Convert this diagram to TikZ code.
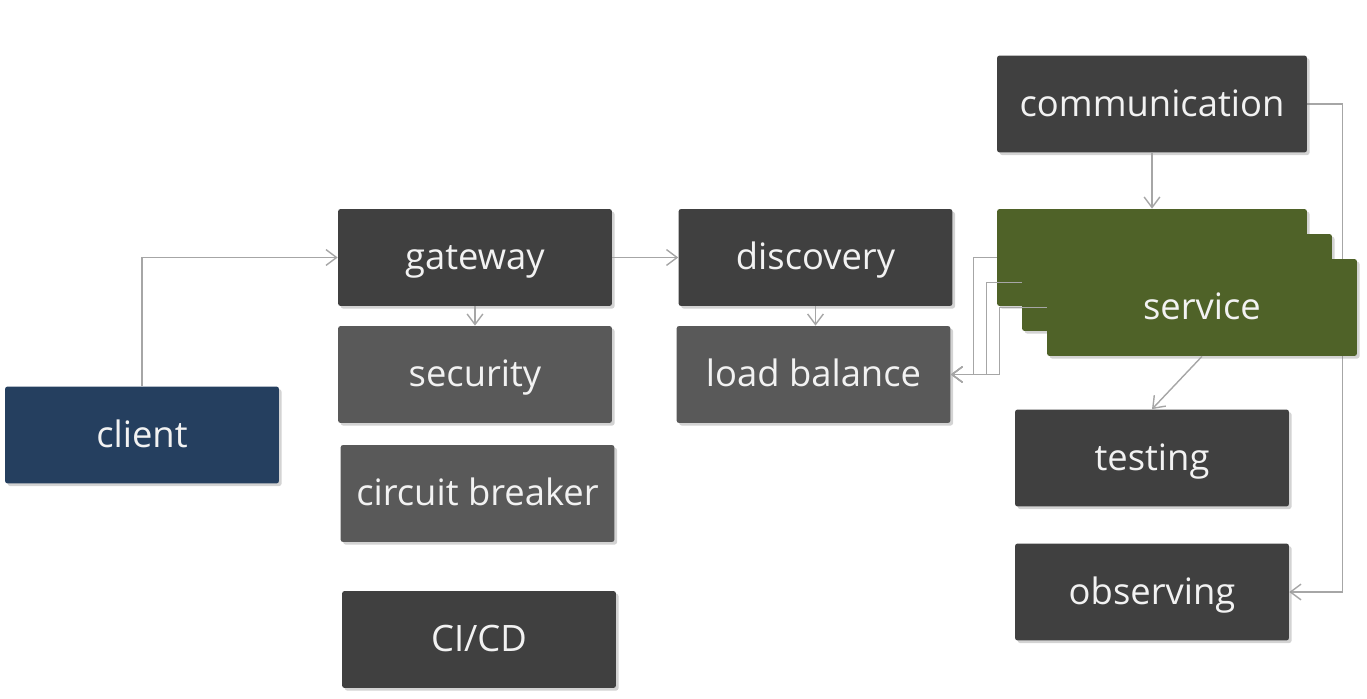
\documentclass[tikz,border=0pt]{standalone}
\usepackage{fontspec}
\setmainfont{Open Sans}
\usetikzlibrary{arrows.meta, shadows, backgrounds}

\definecolor{boxdark}{HTML}{404040}
\definecolor{boxmid}{HTML}{595959}
\definecolor{clientblue}{HTML}{253F5F}
\definecolor{svcgreen}{HTML}{4F6228}
\definecolor{linegray}{HTML}{A6A6A6}
\definecolor{boxtext}{HTML}{F2F2F2}

\begin{document}
\begin{tikzpicture}[x=0.02cm, y=-0.02cm,
    box/.style={rectangle, rounded corners=1.5pt, minimum width=5.48cm,
      minimum height=1.94cm, inner sep=0pt, text=boxtext,
      font=\fontsize{20.7}{24}\selectfont, text height=17pt, text depth=3pt,
      drop shadow={shadow xshift=1.5pt, shadow yshift=-1.5pt, opacity=0.35}},
    link/.style={draw=linegray, line width=0.8pt,
      -{Straight Barb[length=6pt,width=9pt]}}]
  \useasboundingbox (0,0) rectangle (1367,699);

  \node[box, fill=clientblue] (client) at (142,435)     {client};
  \node[box, fill=boxdark]    (gate)   at (475,257.5)   {gateway};
  \node[box, fill=boxmid]     (sec)    at (475,374.5)   {security};
  \node[box, fill=boxmid]     (cb)     at (477.5,493.5) {circuit breaker};
  \node[box, fill=boxdark]    (cicd)   at (479,639.5)   {CI/CD};
  \node[box, fill=boxdark]    (disc)   at (815.5,257.5) {discovery};
  \node[box, fill=boxmid]     (lb)     at (813.5,374.5) {load balance};
  \node[box, fill=boxdark, minimum width=6.2cm] (comm) at (1152,104) {communication};
  \foreach \i/\d/\txt in {1/0/{}, 2/25/{}, 3/50/service} {
    \node[box, fill=svcgreen, minimum width=6.2cm] (svc\i) at (1152+\d,257.5+\d) {\txt};
  }
  \node[box, fill=boxdark]    (test)   at (1152,458)    {testing};
  \node[box, fill=boxdark]    (obs)    at (1152,592)    {observing};

  \draw[link] (client.north) |- (gate.west);
  \draw[link] (gate.east) -- (disc.west);
  \draw[link] (gate.south) -- (sec.north);
  \draw[link] (disc.south) -- (disc.south |- lb.north);
  \draw[link] (comm.south) -- (svc1.north);
  \draw[link] (svc3.south) -- (test.north);
  \foreach \i/\d in {1/23, 2/35, 3/47} {
    \draw[link] (svc\i.west) -- ++(-\d,0) |- (lb.east);
  }
  % runs behind the service stack
  \begin{scope}[on background layer]
    \draw[link] (comm.east) -- ++(35,0) |- (obs.east);
  \end{scope}
\end{tikzpicture}
\end{document}
